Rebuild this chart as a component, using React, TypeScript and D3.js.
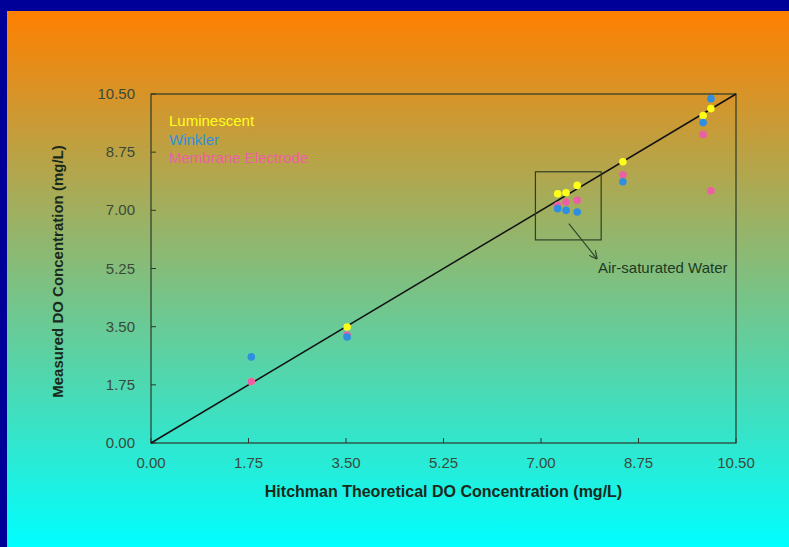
import React from 'react';
import * as d3 from 'd3';

const ticks = [0, 1.75, 3.5, 5.25, 7, 8.75, 10.5];
const seriesNames = ['Luminescent', 'Winkler', 'Membrane Electrode'];
const seriesColors = ['#ffff1a', '#2e8fe0', '#ec5fa6'];

// [theoretical, measured]
const luminescent: [number, number][] = [
  [1.8, 1.85], [3.52, 3.49], [7.3, 7.5], [7.45, 7.53], [7.65, 7.75],
  [8.47, 8.46], [9.91, 9.85], [10.05, 10.06],
];
const winkler: [number, number][] = [
  [1.8, 2.59], [3.52, 3.19], [7.3, 7.05], [7.45, 7.0], [7.65, 6.95],
  [8.47, 7.86], [9.91, 9.64], [10.05, 10.36],
];
const membrane: [number, number][] = [
  [1.8, 1.85], [3.52, 3.25], [7.3, 7.15], [7.45, 7.25], [7.65, 7.3],
  [8.47, 8.07], [9.91, 9.28], [10.05, 7.59],
];
const boxX = [6.9, 8.08];
const boxY = [6.11, 8.16];

export default function App() {
  const width = 789;
  const height = 547;
  const x = d3.scaleLinear().domain([0, 10.5]).range([151, 736]);
  const y = d3.scaleLinear().domain([0, 10.5]).range([443, 94]);
  const series = [luminescent, membrane, winkler];
  const colorFor = [seriesColors[0], seriesColors[2], seriesColors[1]];
  const axisColor = '#2b3a2a';

  return (
    <svg width={width} height={height} style={{ position: 'fixed', left: 0, top: 0 }}
      fontFamily="Arial, 'Liberation Sans', sans-serif">
      <defs>
        <linearGradient id="bg" x1="0" y1="0" x2="0" y2="1">
          <stop offset="0" stopColor="#ff8000" />
          <stop offset="1" stopColor="#00ffff" />
        </linearGradient>
        <marker id="arr" viewBox="0 0 10 10" refX="9" refY="5" markerWidth="7" markerHeight="7" orient="auto">
          <path d="M0,0 L10,5 L0,10" fill="none" stroke="#2f4a2a" strokeWidth="1.5" />
        </marker>
      </defs>
      <rect width={width} height={height} fill="#000099" />
      <rect x={7} y={11} width={width - 7} height={height - 11} fill="url(#bg)" />

      {/* frame */}
      <rect x={x(0)} y={y(10.5)} width={x(10.5) - x(0)} height={y(0) - y(10.5)}
        fill="none" stroke={axisColor} strokeWidth={1.2} />
      {ticks.map(t => (
        <g key={t}>
          <line x1={x(t)} x2={x(t)} y1={y(0)} y2={y(0) - 5} stroke={axisColor} />
          <line x1={x(0)} x2={x(0) + 5} y1={y(t)} y2={y(t)} stroke={axisColor} />
          <text x={x(t)} y={y(0) + 25} textAnchor="middle" fontSize={15} fill="#3a4a3a">
            {t.toFixed(2)}
          </text>
          <text x={x(0) - 16} y={y(t) + 5} textAnchor="end" fontSize={15} fill="#3a4a3a">
            {t.toFixed(2)}
          </text>
        </g>
      ))}

      <line x1={x(0)} y1={y(0)} x2={x(10.5)} y2={y(10.5)} stroke="#111" strokeWidth={1.5} />

      {series.map((s, i) => s.map((d, j) => (
        <circle key={`${i}-${j}`} cx={x(d[0])} cy={y(d[1])} r={3.8} fill={colorFor[i]} />
      )))}

      <rect x={x(boxX[0])} y={y(boxY[1])} width={x(boxX[1]) - x(boxX[0])} height={y(boxY[0]) - y(boxY[1])}
        fill="none" stroke="#2f3f25" strokeWidth={1.2} />
      <line x1={x(7.5)} y1={y(6.6)} x2={x(8.0)} y2={y(5.55)} stroke="#2f4a2a" strokeWidth={1.2} markerEnd="url(#arr)" />
      <text x={598} y={273} fontSize={15} fill="#1f3a22">Air-saturated Water</text>

      {seriesNames.map((n, i) => (
        <text key={n} x={169} y={126 + i * 18.5} fontSize={15} fill={seriesColors[i]}>{n}</text>
      ))}

      <text x={(x(0) + x(10.5)) / 2} y={497} textAnchor="middle" fontSize={16} fontWeight="bold" fill="#1a2a1a">
        Hitchman Theoretical DO Concentration (mg/L)
      </text>
      <text transform={`translate(63,${(y(0) + y(10.5)) / 2 + 3}) rotate(-90)`} textAnchor="middle"
        fontSize={15} fontWeight="bold" fill="#1a2a1a">
        Measured DO Concentration (mg/L)
      </text>
    </svg>
  );
}
